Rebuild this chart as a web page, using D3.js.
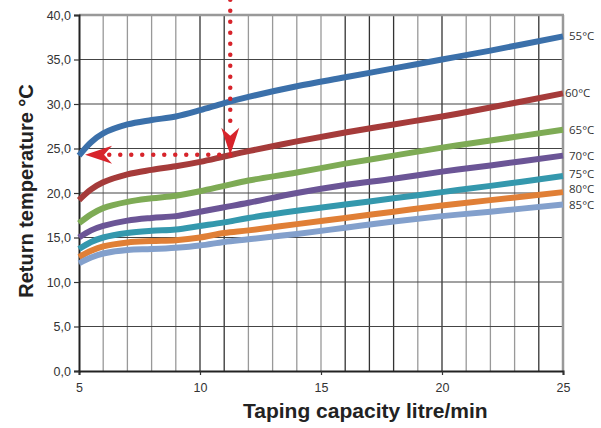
<!DOCTYPE html>
<html><head><meta charset="utf-8">
<script src="https://cdn.jsdelivr.net/npm/d3@7"></script>
<style>body{margin:0;background:#fff}svg{display:block}</style>
</head><body><svg id="c" width="601" height="428"></svg>
<script>
const xs = [5, 5.5, 6, 7, 8, 9, 10, 11, 12, 14, 16, 18, 20, 22, 25];
const s55 = [24.2, 25.7, 26.7, 27.7, 28.2, 28.6, 29.3, 30.1, 30.8, 32.0, 33.0, 34.0, 35.0, 36.0, 37.6];
const s60 = [19.2, 20.4, 21.2, 22.1, 22.6, 23.0, 23.5, 24.1, 24.7, 25.8, 26.8, 27.7, 28.6, 29.6, 31.2];
const s65 = [16.6, 17.6, 18.3, 19.0, 19.4, 19.7, 20.2, 20.8, 21.4, 22.3, 23.3, 24.2, 25.1, 25.9, 27.1];
const s70 = [15.0, 15.8, 16.3, 16.9, 17.2, 17.4, 17.9, 18.4, 18.9, 20.0, 20.9, 21.6, 22.4, 23.1, 24.2];
const s75 = [13.7, 14.5, 15.0, 15.5, 15.75, 15.9, 16.3, 16.7, 17.2, 18.0, 18.7, 19.4, 20.1, 20.8, 21.9];
const s80 = [12.8, 13.5, 14.0, 14.45, 14.6, 14.7, 15.0, 15.5, 15.8, 16.5, 17.2, 17.9, 18.6, 19.2, 20.1];
const s85 = [12.1, 12.75, 13.2, 13.6, 13.7, 13.85, 14.1, 14.5, 14.8, 15.4, 16.1, 16.8, 17.4, 17.9, 18.7];
const seriesNames = ["55°C", "60°C", "65°C", "70°C", "75°C", "80°C", "85°C"];
const seriesData = [s55, s60, s65, s70, s75, s80, s85];
const colors = ["#3b70aa", "#a53b3a", "#7eab55", "#6b5596", "#3498ad", "#e07f36", "#83a0cc"];
const labelOffsets = [0, 0, 0, 0, -2, -3, 0];
const xTicks = [5, 10, 15, 20, 25];
const yTicks = [0, 5, 10, 15, 20, 25, 30, 35, 40];
const darkVLines = [10, 11, 16, 17, 18, 20, 24];
const arrowV = [[11.25, 41.7], [11.25, 24.3]];
const arrowH = [[11.25, 24.3], [5.25, 24.3]];

const svg = d3.select("#c");
const x = d3.scaleLinear().domain([5, 25]).range([79, 563]);
const y = d3.scaleLinear().domain([0, 40]).range([371, 15]);
const fmt = v => d3.format(".1f")(v).replace(".", ",");

// vertical grid
const g = svg.append("g");
g.selectAll("line.v").data(d3.range(6, 25)).join("line")
  .attr("x1", d => x(d)).attr("x2", d => x(d)).attr("y1", y(40)).attr("y2", y(0))
  .attr("stroke", d => darkVLines.includes(d) ? "#333" : "#999").attr("stroke-width", 1.3);
// horizontal grid
g.selectAll("line.h").data(yTicks.filter(v => v > 0 && v < 40)).join("line")
  .attr("x1", x(5)).attr("x2", x(25)).attr("y1", d => y(d)).attr("y2", d => y(d))
  .attr("stroke", "#444").attr("stroke-width", 1.2);
// top & right frame
g.append("line").attr("x1", x(5)).attr("x2", x(25) + 1).attr("y1", y(40)).attr("y2", y(40)).attr("stroke", "#999").attr("stroke-width", 2.5);
g.append("line").attr("x1", x(25)).attr("x2", x(25)).attr("y1", y(40)).attr("y2", y(0)).attr("stroke", "#999").attr("stroke-width", 2.5);

// axes
const xAxis = svg.append("g").attr("transform", `translate(0,${y(0)})`)
  .call(d3.axisBottom(x).tickValues(xTicks).tickSize(4).tickPadding(8).tickFormat(d3.format("d")));
const yAxis = svg.append("g").attr("transform", `translate(${x(5)},0)`)
  .call(d3.axisLeft(y).tickValues(yTicks).tickSize(5).tickPadding(3).tickFormat(fmt));
[xAxis, yAxis].forEach(a => {
  a.select(".domain").attr("stroke", "#222").attr("stroke-width", 2);
  a.selectAll(".tick line").attr("stroke", "#333").attr("stroke-width", 1.2);
  a.selectAll("text").attr("font-family", "Liberation Sans, Arial, sans-serif").attr("font-size", 12.5).attr("fill", "#333");
});

// series
const line = d3.line().x((d, i) => x(xs[i])).y(d => y(d)).curve(d3.curveCatmullRom.alpha(0.5));
svg.append("g").selectAll("path").data(seriesData).join("path")
  .attr("d", d => line(d)).attr("fill", "none")
  .attr("stroke", (d, i) => colors[i]).attr("stroke-width", 6);

// series labels
svg.append("g").selectAll("text").data(seriesData).join("text")
  .attr("x", (d, i) => i === 1 ? x(25) + 2 : x(25) + 6)
  .attr("y", (d, i) => y(d[d.length - 1]) + 4 + labelOffsets[i])
  .attr("font-family", "Open Sans, sans-serif").attr("font-size", 11.5).attr("fill", "#333")
  .text((d, i) => seriesNames[i]);

// red dotted arrows
const red = "#d7242b";
const vStart = [x(arrowV[0][0]), y(arrowV[0][1])];
const vEnd = [x(arrowV[1][0]), y(arrowV[1][1])];
svg.append("line").attr("x1", vStart[0]).attr("y1", vStart[1]).attr("x2", vEnd[0]).attr("y2", vEnd[1] - 32)
  .attr("stroke", red).attr("stroke-width", 4.5).attr("stroke-linecap", "round").attr("stroke-dasharray", "0 11");
svg.append("path").attr("transform", `translate(${vEnd[0]},${vEnd[1]})`)
  .attr("d", "M0,0 L-9,-27 L0,-19 L9,-27 Z").attr("fill", red);
const hStart = [x(arrowH[0][0]), y(arrowH[0][1])];
const hEnd = [x(arrowH[1][0]), y(arrowH[1][1])];
svg.append("line").attr("x1", hStart[0]).attr("y1", hStart[1]).attr("x2", hEnd[0] + 24).attr("y2", hEnd[1])
  .attr("stroke", red).attr("stroke-width", 4.5).attr("stroke-linecap", "round").attr("stroke-dasharray", "0 11");
svg.append("path").attr("transform", `translate(${hEnd[0]},${hEnd[1]})`)
  .attr("d", "M0,0 L27,-9 L19,0 L27,9 Z").attr("fill", red);

// axis titles
svg.append("text").attr("x", 243).attr("y", 418)
  .attr("font-family", "Liberation Sans, Arial, sans-serif").attr("font-weight", "bold").attr("font-size", 21).attr("fill", "#222")
  .text("Taping capacity litre/min");
svg.append("text").attr("transform", "translate(33,191) rotate(-90)").attr("text-anchor", "middle")
  .attr("font-family", "Liberation Sans, Arial, sans-serif").attr("font-weight", "bold").attr("font-size", 20).attr("fill", "#222")
  .text("Return temperature °C");
</script></body></html>
